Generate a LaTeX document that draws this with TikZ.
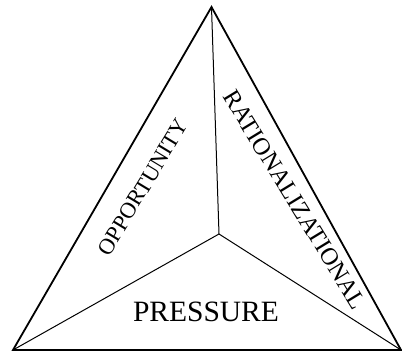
\documentclass[tikz,border=0pt]{standalone}
\usepackage{fontspec}
\setmainfont{Liberation Serif}
\usetikzlibrary{positioning,calc}

\begin{document}
\begin{tikzpicture}[
    x=1pt, y=1pt,
    outer/.style={line width=1.8pt, line join=miter},
    inner/.style={line width=1pt},
    lbl/.style={inner sep=0pt, font=\fontsize{22.5}{22.5}\selectfont},
  ]
  \useasboundingbox (0,0) rectangle (402,354);

  % corners of the triangle and the meeting point inside
  \coordinate (top)   at (211.5, 347);
  \coordinate (left)  at (13, 4);
  \coordinate (right) at (401, 4);
  \coordinate (mid)   at (219, 120);

  % outer triangle
  \draw[outer] (top) -- (right) -- (left) -- cycle;

  % spokes from the inner point
  \draw[inner] (mid) -- (top);
  \draw[inner] (mid) -- (left);
  \draw[inner] (mid) -- (right);

  % labels
  \node[lbl, rotate=58.8]  (opp) at (143, 167) {OPPORTUNITY};
  \node[lbl, rotate=-58.6, font=\fontsize{24.5}{24.5}\selectfont] (rat) at (295, 154) {RATIONALIZATIONAL};
  \node[lbl, anchor=base, font=\fontsize{29.5}{29.5}\selectfont] (pres) at (206, 32.3) {PRESSURE};
\end{tikzpicture}
\end{document}
